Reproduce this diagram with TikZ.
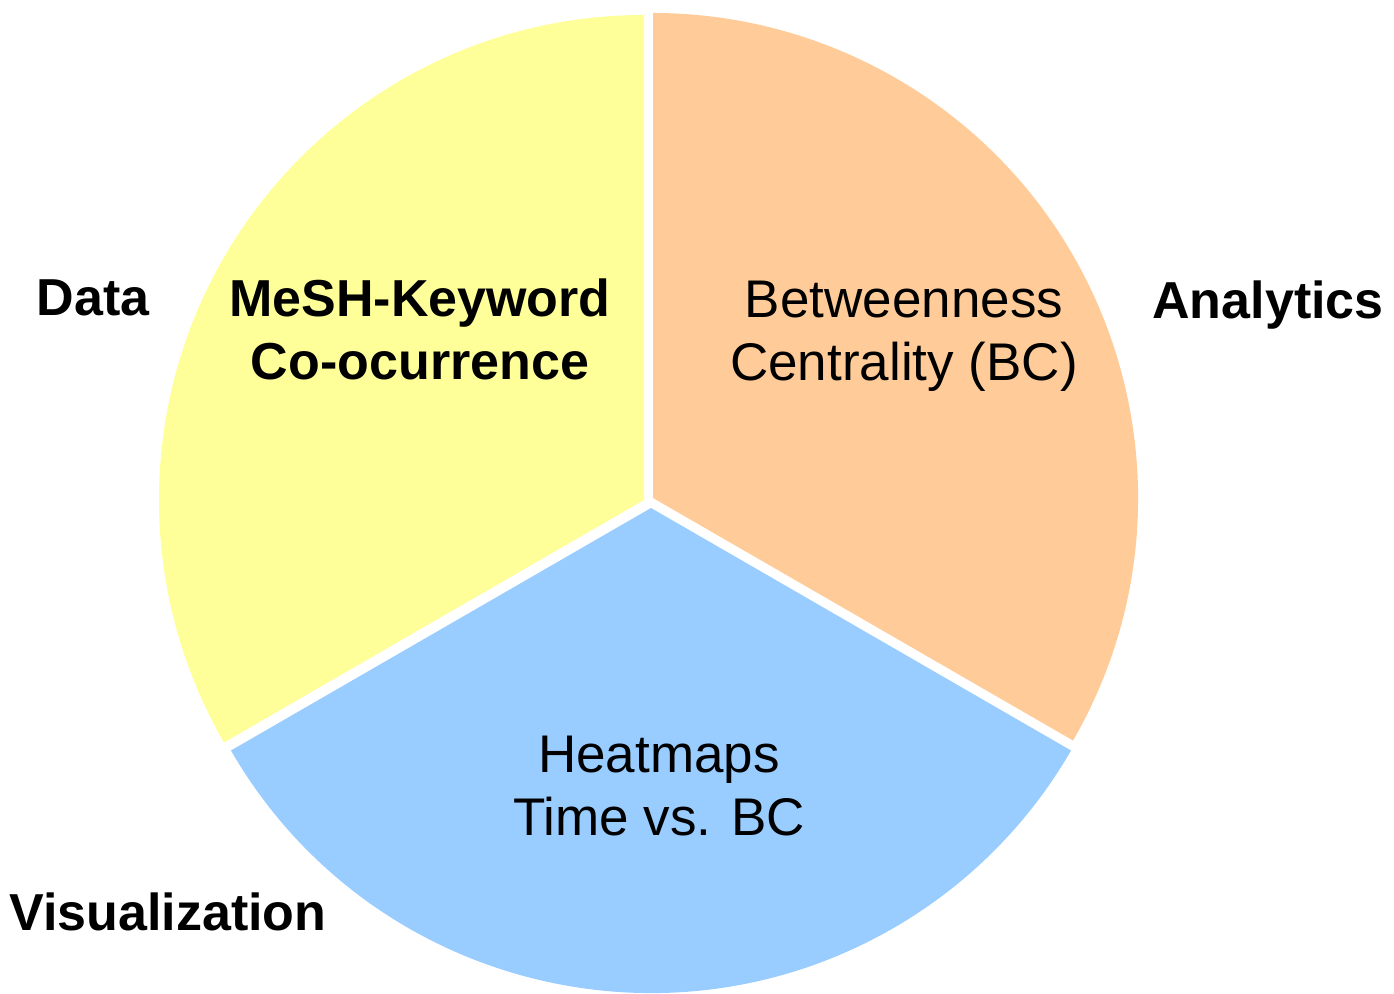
\documentclass[tikz,border=0pt]{standalone}
\usepackage{fontspec}
\setmainfont{Liberation Sans}
\definecolor{dataYellow}{HTML}{FFFF99}
\definecolor{analyticsOrange}{HTML}{FFCC99}
\definecolor{visBlue}{HTML}{99CCFF}
\begin{document}
\begin{tikzpicture}[x=1bp,y=1bp,
  lbl/.style={font=\fontsize{53bp}{63bp}\selectfont, inner sep=0pt, align=center, anchor=base},
  boldlbl/.style={lbl, font=\fontsize{52bp}{63bp}\selectfont\bfseries}]
\useasboundingbox (0,0) rectangle (1394,993);

% three exploded sectors of the cycle
\fill[dataYellow] (644,493) -- ++(90:485bp)
  arc[start angle=90, end angle=210, radius=485bp] -- cycle;
\fill[analyticsOrange] (653,495) -- ++(-30:485bp)
  arc[start angle=-30, end angle=90, radius=485bp] -- cycle;
\fill[visBlue] (651,485) -- ++(210:485bp)
  arc[start angle=210, end angle=330, radius=485bp] -- cycle;

% sector contents (anchored on the baseline of the last line)
\node[boldlbl] (mesh) at (420,613) {MeSH-Keyword\\Co-ocurrence};
\node[lbl] (bc) at (904,612) {Betweenness\\Centrality (BC)};
\node[lbl] (heat) at (659,158) {Heatmaps\\Time vs. BC};

% stage names
\node[boldlbl] (data) at (93,677) {Data};
\node[boldlbl] (analytics) at (1268,674) {Analytics};
\node[boldlbl] (vis) at (168,63) {Visualization};
\end{tikzpicture}
\end{document}
